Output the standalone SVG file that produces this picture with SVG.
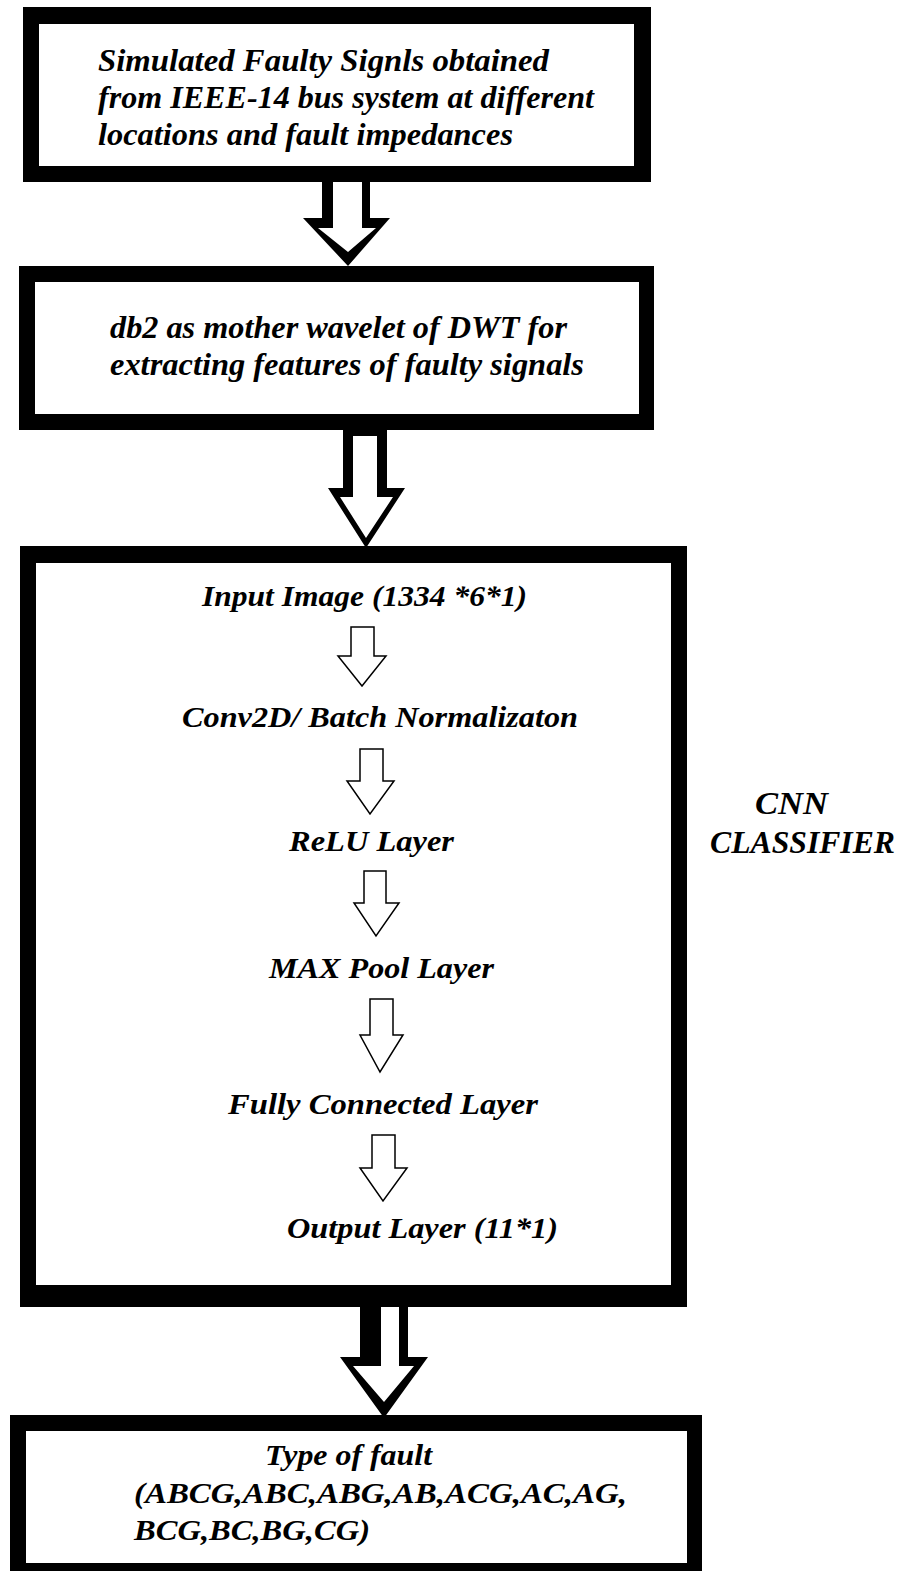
<svg xmlns="http://www.w3.org/2000/svg" width="903" height="1571" viewBox="0 0 903 1571">
<style>
.t{font-family:"Liberation Serif","Times New Roman",serif;font-weight:bold;font-style:italic;fill:#000}
.f1{font-size:31px}
.f2{font-size:30px}
.f3{font-size:31px}
.frame{fill:#000}
.inner{fill:#fff}
.sa{fill:#fff;stroke:#000;stroke-width:1.5;stroke-linejoin:miter}
</style>
<rect x="0" y="0" width="903" height="1571" fill="#fff"/>
<g id="node-signals">
<rect class="frame" x="23" y="7" width="628" height="175"/>
<rect class="inner" x="39" y="24" width="595" height="142"/>
<text class="t f1" x="98" y="71" textLength="451" lengthAdjust="spacingAndGlyphs">Simulated Faulty Signls obtained</text>
<text class="t f1" x="98" y="108" textLength="496" lengthAdjust="spacingAndGlyphs">from IEEE-14 bus system at different</text>
<text class="t f1" x="98" y="145" textLength="415" lengthAdjust="spacingAndGlyphs">locations and fault impedances</text>
</g>
<g id="node-dwt">
<rect class="frame" x="19" y="266" width="635" height="164"/>
<rect class="inner" x="35" y="282" width="604" height="132"/>
<text class="t f1" x="110" y="338" textLength="457" lengthAdjust="spacingAndGlyphs">db2 as mother wavelet of DWT for</text>
<text class="t f1" x="110" y="375" textLength="474" lengthAdjust="spacingAndGlyphs">extracting features of faulty signals</text>
</g>
<g id="node-cnn">
<rect class="frame" x="20" y="546" width="667" height="761"/>
<rect class="inner" x="36" y="563" width="635" height="722"/>
<text class="t f2" x="202" y="606" textLength="325" lengthAdjust="spacingAndGlyphs">Input Image (1334 *6*1)</text>
<text class="t f2" x="182" y="727" textLength="396" lengthAdjust="spacingAndGlyphs">Conv2D/ Batch Normalizaton</text>
<text class="t f2" x="289" y="851" textLength="165" lengthAdjust="spacingAndGlyphs">ReLU Layer</text>
<text class="t f2" x="269" y="978" textLength="225" lengthAdjust="spacingAndGlyphs">MAX Pool Layer</text>
<text class="t f2" x="228" y="1114" textLength="310" lengthAdjust="spacingAndGlyphs">Fully Connected Layer</text>
<text class="t f2" x="287" y="1238" textLength="271" lengthAdjust="spacingAndGlyphs">Output Layer (11*1)</text>
</g>
<g id="label-cnn">
<text class="t f3" x="755" y="814" textLength="73" lengthAdjust="spacingAndGlyphs">CNN</text>
<text class="t f3" x="710" y="853" textLength="185" lengthAdjust="spacingAndGlyphs">CLASSIFIER</text>
</g>
<g id="node-fault">
<rect class="frame" x="10" y="1415" width="692" height="160"/>
<rect class="inner" x="26" y="1431" width="661" height="132"/>
<text class="t f2" x="265" y="1465" textLength="167" lengthAdjust="spacingAndGlyphs">Type of fault</text>
<text class="t f2" x="134" y="1503" textLength="493" lengthAdjust="spacingAndGlyphs">(ABCG,ABC,ABG,AB,ACG,AC,AG,</text>
<text class="t f2" x="134" y="1540" textLength="236" lengthAdjust="spacingAndGlyphs">BCG,BC,BG,CG)</text>
</g>
<g id="connectors">
<polygon fill="#000" points="322,182 370,182 370,218 390,218 348,266 303,218 322,218"/>
<polygon fill="#fff" points="333,182 362,182 362,228 376,228 348,252 318,228 333,228"/>
<polygon fill="#000" points="343,430 387,430 387,488 405,488 366,548 328,488 343,488"/>
<polygon fill="#fff" points="353,436 377,436 377,497 393,497 366,538 340,497 353,497"/>
<polygon fill="#000" points="360,1307 408,1307 408,1357 428,1357 384,1418 340,1357 360,1357"/>
<polygon fill="#fff" points="381,1307 399,1307 399,1366 414,1366 384,1402 353,1366 381,1366"/>
<polygon class="sa" points="351,627 374,627 374,656 386,656 362,686 338,656 351,656"/>
<polygon class="sa" points="360,749 383,749 383,781 394,781 370,814 347,781 360,781"/>
<polygon class="sa" points="364,871 386,871 386,903 399,903 376,936 354,903 364,903"/>
<polygon class="sa" points="370,999 393,999 393,1035 403,1035 380,1072 360,1035 370,1035"/>
<polygon class="sa" points="372,1135 395,1135 395,1168 407,1168 383,1201 360,1168 372,1168"/>
</g>
</svg>
